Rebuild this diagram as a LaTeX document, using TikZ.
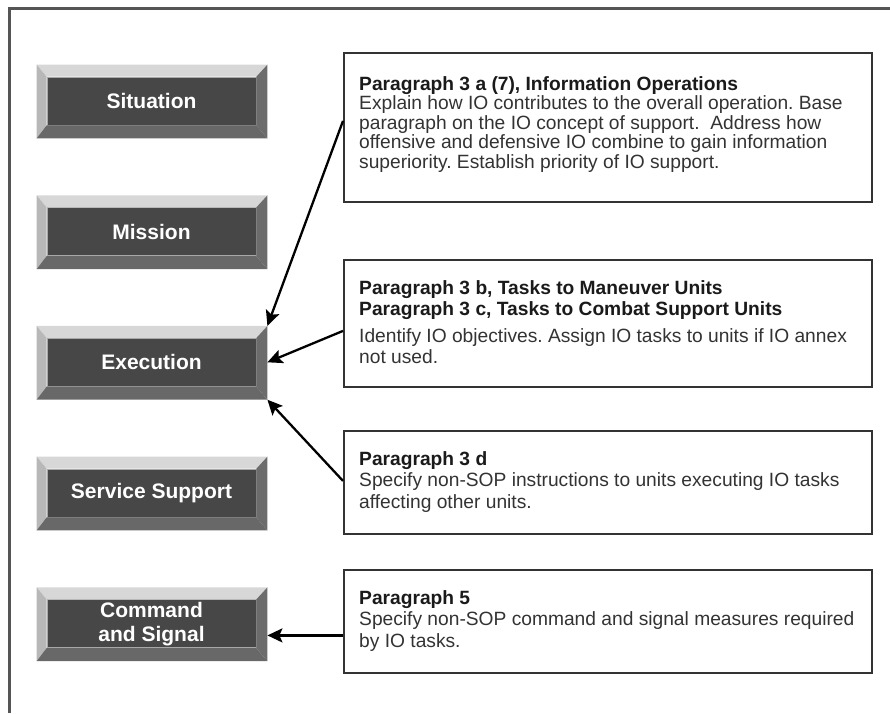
\documentclass[tikz,border=0pt]{standalone}
\usepackage{fontspec}
\setmainfont{Liberation Sans}
\usetikzlibrary{arrows.meta}
\frenchspacing
\definecolor{btndark}{HTML}{474747}
\definecolor{btnedge}{HTML}{A8A8A8}
\definecolor{bevtopc}{HTML}{D7D7D7}
\definecolor{bevleftc}{HTML}{B8B8B8}
\definecolor{bevrightc}{HTML}{6C6C6C}
\definecolor{bevbotc}{HTML}{686868}
\definecolor{boxedge}{HTML}{333333}
\definecolor{framec}{HTML}{555555}
\definecolor{bodytext}{HTML}{333333}
\definecolor{titletext}{HTML}{1A1A1A}
\begin{document}
\begin{tikzpicture}[x=1pt,y=-1pt,
  btn/.style={fill=btndark, draw=btnedge, line width=0.8pt, minimum width=209pt, minimum height=48pt, inner sep=0pt, text=white, font=\fontsize{21}{24}\selectfont\bfseries, align=center},
  pbox/.style={draw=boxedge, line width=1.8pt, fill=white, minimum width=528pt, inner sep=0pt, anchor=north west},
  ptext/.style={anchor=north west, inner sep=0pt, align=left, text=bodytext, font=\fontsize{19.2}{21.2}\selectfont},
  arr/.style={line width=2.3pt, draw=black, -{Stealth[length=15pt,width=14pt,inset=3pt]}}
]
\useasboundingbox (0,0) rectangle (890,713);
\draw[framec, line width=3pt] (9.5,713) -- (9.5,8.5) -- (890,8.5);

% buttons
\node[btn] (sit) at (151.5,101) {Situation};
\node[btn] (mis) at (151.5,231.7) {Mission};
\node[btn] (exe) at (151.5,362.3) {Execution};
\node[btn] (ser) at (151.5,493) {Service Support};
\node[btn] (cmd) at (151.5,623.7) {Command\\and Signal};

\foreach \n in {sit,mis,exe,ser,cmd}{
  \coordinate (\n-onw) at ([shift={(-10,-12)}]\n.north west);
  \coordinate (\n-one) at ([shift={(11,-12)}]\n.north east);
  \coordinate (\n-osw) at ([shift={(-10,13)}]\n.south west);
  \coordinate (\n-ose) at ([shift={(11,13)}]\n.south east);
  \coordinate (\n-oe) at ([xshift=11pt]\n.east);
  \fill[bevtopc] (\n-onw) -- (\n-one) -- (\n.north east) -- (\n.north west) -- cycle;
  \fill[bevleftc] (\n-onw) -- (\n.north west) -- (\n.south west) -- (\n-osw) -- cycle;
  \fill[bevrightc] (\n-one) -- (\n.north east) -- (\n.south east) -- (\n-ose) -- cycle;
  \fill[bevbotc] (\n-osw) -- (\n.south west) -- (\n.south east) -- (\n-ose) -- cycle;
}

% paragraph boxes
\node[pbox, minimum height=149pt] (b1) at (343,52) {};
\node[pbox, minimum height=127pt] (b2) at (343,259) {};
\node[pbox, minimum height=103pt] (b3) at (343,430) {};
\node[pbox, minimum height=103pt] (b4) at (343,569) {};

\node[ptext, font=\fontsize{19.2}{19.6}\selectfont] (t1) at ([shift={(16,24)}]b1.north west) {{\bfseries\color{titletext}Paragraph 3 a (7), Information Operations}\\
Explain how IO contributes to the overall operation. Base\\
paragraph on the IO concept of support.~ Address how\\
offensive and defensive IO combine to gain information\\
superiority. Establish priority of IO support.};

\node[ptext] (t2) at ([shift={(16,21.5)}]b2.north west) {{\bfseries\color{titletext}Paragraph 3 b, Tasks to Maneuver Units}\\
{\bfseries\color{titletext}Paragraph 3 c, Tasks to Combat Support Units}\\[5pt]
Identify IO objectives. Assign IO tasks to units if IO annex\\
not used.};

\node[ptext] (t3) at ([shift={(16,21.5)}]b3.north west) {{\bfseries\color{titletext}Paragraph 3 d}\\
Specify non-SOP instructions to units executing IO tasks\\
affecting other units.};

\node[ptext] (t4) at ([shift={(16,21.5)}]b4.north west) {{\bfseries\color{titletext}Paragraph 5}\\
Specify non-SOP command and signal measures required\\
by IO tasks.};

% arrows
\draw[arr] ([yshift=6.5pt]b1.west) -- (exe-one);
\draw[arr] ([yshift=-7.5pt]b2.west) -- (exe-oe);
\draw[arr] ([yshift=1.5pt]b3.west) -- (exe-ose);
\coordinate (a4s) at ([yshift=-14pt]b4.west);
\draw[arr] (a4s) -- (a4s -| cmd-oe);
\end{tikzpicture}
\end{document}
